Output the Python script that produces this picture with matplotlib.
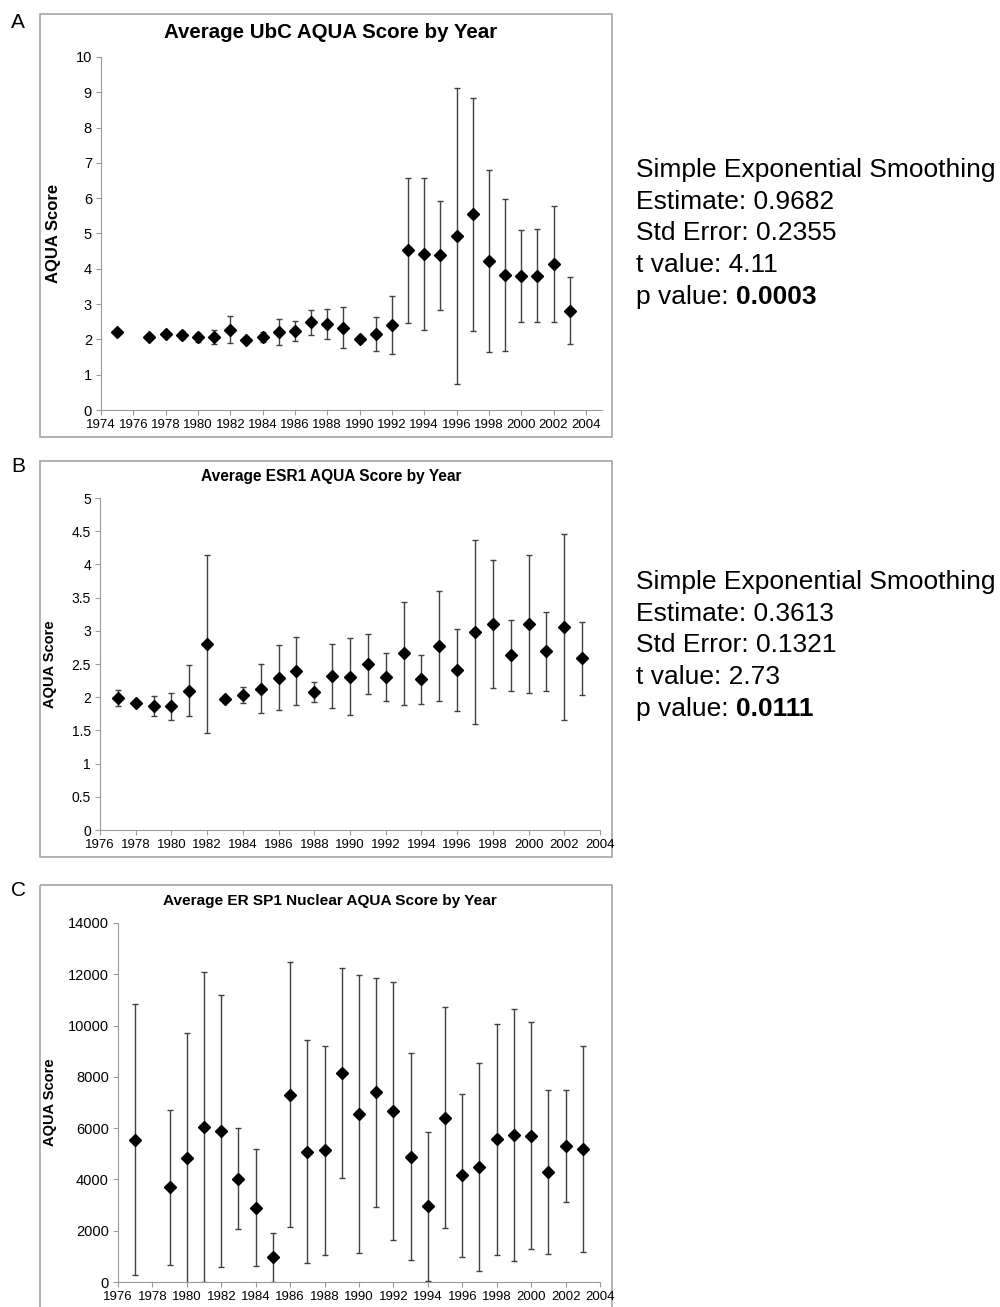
import matplotlib
matplotlib.use("Agg")
import matplotlib.pyplot as plt
from matplotlib.patches import Rectangle

plt.rcParams['font.family'] = ['Liberation Sans', 'DejaVu Sans']

# Panel A: UbC
years_a = [1975, 1977, 1978, 1979, 1980, 1981, 1982, 1983, 1984, 1985, 1986, 1987, 1988, 1989,
           1990, 1991, 1992, 1993, 1994, 1995, 1996, 1997, 1998, 1999, 2000, 2001, 2002, 2003]
mean_a = [2.20, 2.08, 2.14, 2.12, 2.06, 2.06, 2.28, 1.98, 2.07, 2.20, 2.23, 2.48, 2.43, 2.33,
          2.02, 2.16, 2.41, 4.52, 4.42, 4.38, 4.93, 5.55, 4.22, 3.83, 3.80, 3.80, 4.14, 2.81]
err_a = [0.00, 0.05, 0.05, 0.12, 0.12, 0.20, 0.38, 0.03, 0.13, 0.37, 0.28, 0.35, 0.43, 0.58,
         0.03, 0.48, 0.82, 2.05, 2.15, 1.55, 4.20, 3.30, 2.58, 2.15, 1.30, 1.32, 1.65, 0.95]

# Panel B: ESR1
years_b = list(range(1977, 2004))
mean_b = [1.99, 1.92, 1.87, 1.86, 2.10, 2.80, 1.97, 2.03, 2.13, 2.29, 2.40, 2.08, 2.32, 2.31,
          2.50, 2.31, 2.66, 2.27, 2.77, 2.41, 2.98, 3.10, 2.63, 3.10, 2.69, 3.06, 2.59]
err_b = [0.12, 0.02, 0.15, 0.21, 0.38, 1.34, 0.02, 0.12, 0.37, 0.49, 0.51, 0.15, 0.48, 0.58,
         0.45, 0.36, 0.78, 0.37, 0.83, 0.62, 1.38, 0.96, 0.53, 1.04, 0.59, 1.40, 0.55]

# Panel C: ER SP1 nuclear
years_c = [1977, 1979, 1980, 1981, 1982, 1983, 1984, 1985, 1986, 1987, 1988, 1989, 1990,
           1991, 1992, 1993, 1994, 1995, 1996, 1997, 1998, 1999, 2000, 2001, 2002, 2003]
mean_c = [5550, 3690, 4830, 6030, 5890, 4030, 2900, 960, 7300, 5080, 5130, 8150, 6550,
          7390, 6650, 4890, 2950, 6410, 4160, 4480, 5560, 5730, 5710, 4290, 5300, 5190]
err_c = [5290, 3030, 4870, 6040, 5300, 1975, 2290, 950, 5170, 4350, 4070, 4080, 5420,
         4460, 5030, 4040, 2900, 4310, 3170, 4060, 4500, 4910, 4430, 3200, 2180, 4020]

stats_a = ["Simple Exponential Smoothing", "Estimate: 0.9682", "Std Error: 0.2355",
           "t value: 4.11"]
pval_a = "0.0003"
stats_b = ["Simple Exponential Smoothing", "Estimate: 0.3613", "Std Error: 0.1321",
           "t value: 2.73"]
pval_b = "0.0111"

W, H = 1000, 1307
fig = plt.figure(figsize=(W / 100, H / 100), dpi=100)
bg = fig.add_axes([0, 0, 1, 1])
bg.set_xlim(0, W)
bg.set_ylim(H, 0)
bg.axis('off')

gray = '#9a9a9a'


def panel(rect_px, frame_px, title, title_xy, title_size, years, mean, err,
          xlim, ylim, ystep, xtick_size, ytick_size, ylab_size, ylab_x):
    l, t, r, b = rect_px
    ax = fig.add_axes([l / W, 1 - b / H, (r - l) / W, (b - t) / H])
    fl, ft, fr, fb = frame_px
    bg.add_patch(Rectangle((fl, ft), fr - fl, fb - ft, fill=False, ec='#a6a6a6', lw=1.2))
    ax.errorbar(years, mean, yerr=err, fmt='D', color='black', ms=6,
                ecolor='#404040', elinewidth=1, capsize=2.5, capthick=1)
    ax.set_xlim(*xlim)
    ax.set_ylim(*ylim)
    ax.set_xticks(range(xlim[0], 2005, 2))
    yt = []
    v = 0
    while v <= ylim[1] + 1e-9:
        yt.append(v)
        v += ystep
    ax.set_yticks(yt)
    ax.set_yticklabels([('%g' % y) for y in yt])
    for s in ['top', 'right']:
        ax.spines[s].set_visible(False)
    for s in ['left', 'bottom']:
        ax.spines[s].set_color(gray)
    ax.tick_params(colors=gray, labelcolor='black', length=3.5, direction='out', pad=3)
    ax.tick_params(axis='x', labelsize=xtick_size)
    ax.tick_params(axis='y', labelsize=ytick_size)
    ax.set_ylabel("AQUA Score", fontsize=ylab_size, fontweight='bold')
    ax.yaxis.set_label_coords(ylab_x, 0.5)
    bg.text(title_xy[0], title_xy[1], title, fontsize=title_size, fontweight='bold',
            ha='center', va='center')
    return ax


panel((101, 57, 602, 410), (40, 14, 612, 437), "Average UbC AQUA Score by Year",
      (331, 33), 14.8, years_a, mean_a, err_a, (1974, 2005), (0, 10), 1,
      9.5, 10.5, 12, -0.08)
panel((100, 498, 600, 830), (40, 461, 612, 857), "Average ESR1 AQUA Score by Year",
      (331, 477), 11.2, years_b, mean_b, err_b, (1976, 2004), (0, 5), 0.5,
      9.5, 10, 10.5, -0.086)
panel((118, 923, 600, 1282), (40, 885, 612, 1312), "Average ER SP1 Nuclear AQUA Score by Year",
      (330, 901), 11.1, years_c, mean_c, err_c, (1976, 2004), (0, 14000), 2000,
      9.5, 10.5, 10.5, -0.127)

for lab, y in [("A", 22), ("B", 466), ("C", 890)]:
    bg.text(18, y, lab, fontsize=15, ha='center', va='center')


def stats_block(lines, pval, y0):
    for i, s in enumerate(lines):
        bg.text(636, y0 + i * 31.7, s, fontsize=19, ha='left', va='center')
    t = bg.text(636, y0 + 4 * 31.7, "p value: ", fontsize=19, ha='left', va='center')
    bg.annotate(pval, xy=(1, 0), xycoords=t, fontsize=19, fontweight='bold',
                ha='left', va='bottom')


stats_block(stats_a, pval_a, 170)
stats_block(stats_b, pval_b, 582)

fig.savefig("out.png", dpi=100)
